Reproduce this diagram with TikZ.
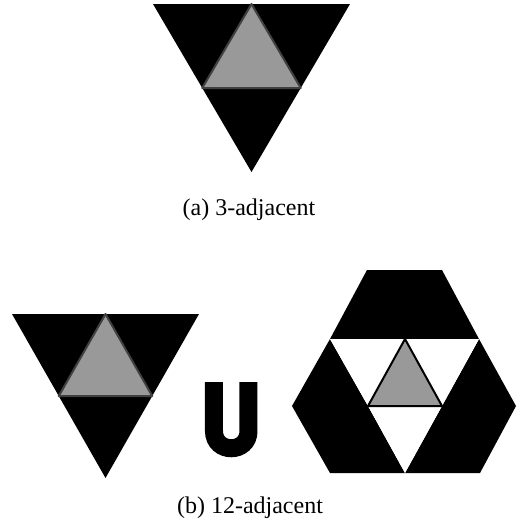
\documentclass[tikz,border=0pt]{standalone}
\usepackage{fontspec}
\setmainfont{Liberation Serif}
\usetikzlibrary{calc}

\begin{document}
\begin{tikzpicture}[
        x=0.5pt, y=-0.5pt,
        blk/.style={fill=black},
        cell/.style={fill=black!40, draw=black!75, line width=1pt, line join=round},
        hole/.style={fill=white},
        caption/.style={font=\fontsize{12}{14}\selectfont, inner sep=0pt}
    ]
        \useasboundingbox (0,0) rectangle (516,527);

        % (a): big inverted triangle, gray cell in the middle
        \coordinate (aL) at (153,4);
        \coordinate (aR) at (350,4);
        \coordinate (aB) at (251.5,172);
        \fill[blk] (aL) -- (aR) -- (aB) -- cycle;
        \draw[cell] ($(aL)!0.5!(aR)$) -- ($(aR)!0.5!(aB)$) -- ($(aL)!0.5!(aB)$) -- cycle;
        \node[caption] (capA) at (249,209.5) {(a) 3-adjacent};

        % (b) left: same inverted triangle
        \coordinate (bL) at (12,314);
        \coordinate (bR) at (199,314);
        \coordinate (bB) at (105.5,478);
        \fill[blk] (bL) -- (bR) -- (bB) -- cycle;
        \draw[cell] ($(bL)!0.5!(bR)$) -- ($(bR)!0.5!(bB)$) -- ($(bL)!0.5!(bB)$) -- cycle;

        % union sign
        \draw[line width=9pt] (214,382) -- (214,431) .. controls (214,454) and (248.5,454) .. (248.5,431) -- (248.5,382);

        % (b) right: hexagon of triangles
        \coordinate (t1) at (367,270);
        \coordinate (t2) at (442,270);
        \coordinate (m1) at (330,339);
        \coordinate (m2) at (405,339);
        \coordinate (m3) at (479,339);
        \coordinate (l) at (292,406);
        \coordinate (c1) at (368,406);
        \coordinate (c2) at (442,406);
        \coordinate (r) at (516,406);
        \coordinate (b1) at (330,473);
        \coordinate (b2) at (405,473);
        \coordinate (b3) at (480,473);

        \fill[blk] (t1) -- (t2) -- (m3) -- (m1) -- cycle;
        \fill[blk] (m1) -- (c1) -- (b2) -- (b1) -- (l) -- cycle;
        \fill[blk] (m3) -- (r) -- (b3) -- (b2) -- (c2) -- cycle;
        \fill[hole] (m1) -- (m2) -- (c1) -- cycle;
        \fill[hole] (m2) -- (m3) -- (c2) -- cycle;
        \fill[hole] (c1) -- (c2) -- (b2) -- cycle;
        \draw[cell, draw=black] (m2) -- (c2) -- (c1) -- cycle;

        \node[caption] (capB) at (250,507.5) {(b) 12-adjacent};
    \end{tikzpicture}
\end{document}
